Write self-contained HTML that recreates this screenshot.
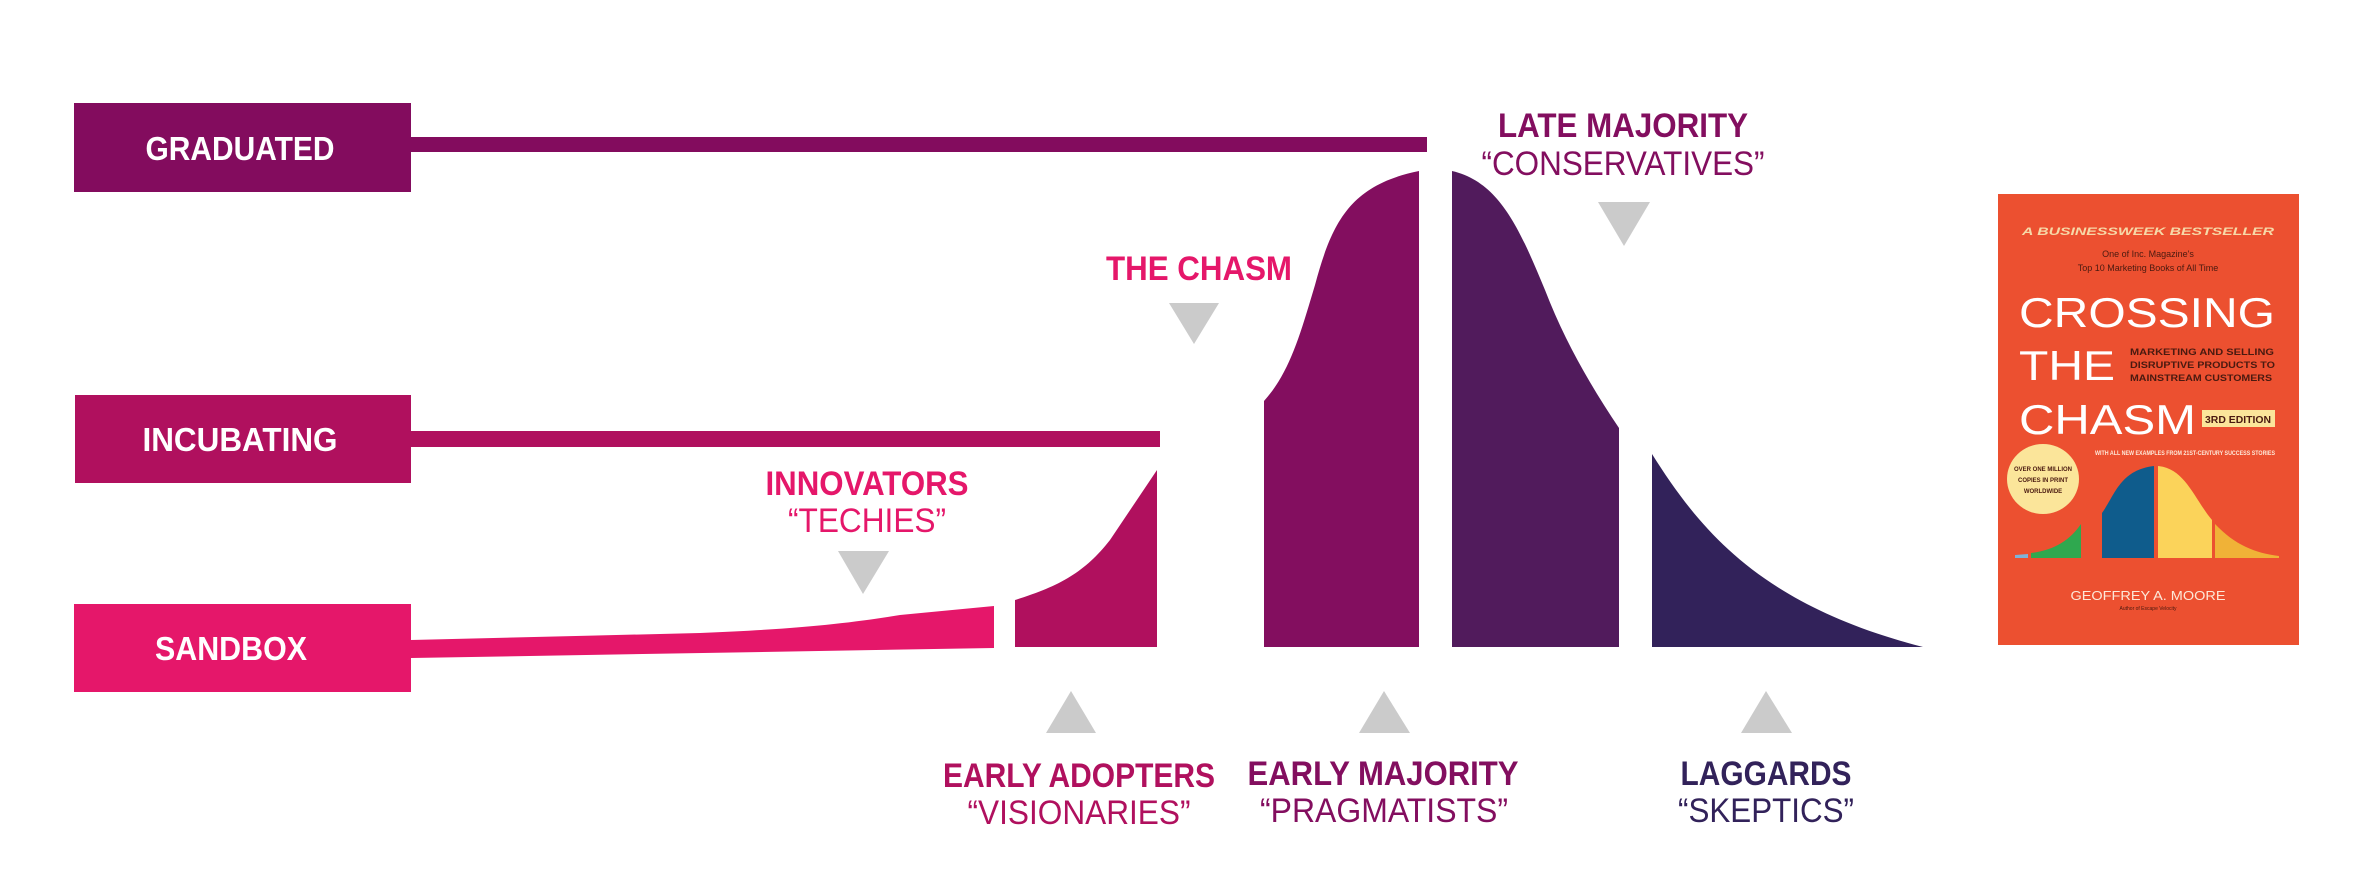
<!DOCTYPE html>
<html><head><meta charset="utf-8"><style>
html,body{margin:0;padding:0;background:#fff}
svg{display:block}
text{font-family:"Liberation Sans",sans-serif}
</style></head><body>
<svg width="2356" height="884" viewBox="0 0 2356 884" xmlns="http://www.w3.org/2000/svg">
<rect width="2356" height="884" fill="#fff"/>
<!-- bars -->
<rect x="74" y="103" width="337" height="89" fill="#830c5e"/>
<rect x="411" y="137" width="1016" height="15" fill="#830c5e"/>
<rect x="75" y="395" width="336" height="88" fill="#b0105e"/>
<rect x="411" y="431" width="749" height="16" fill="#b0105e"/>
<rect x="74" y="604" width="337" height="88" fill="#e5176a"/>
<path d="M411,640 L700,633 C800,629 850,623 900,615 L994,606 L994,648 L411,658 Z" fill="#e5176a"/>
<text x="240" y="160" font-size="33" font-weight="bold" fill="#fff" text-anchor="middle" textLength="189" lengthAdjust="spacingAndGlyphs">GRADUATED</text>
<text x="240" y="451" font-size="33" font-weight="bold" fill="#fff" text-anchor="middle" textLength="195" lengthAdjust="spacingAndGlyphs">INCUBATING</text>
<text x="231" y="660" font-size="33" font-weight="bold" fill="#fff" text-anchor="middle" textLength="152" lengthAdjust="spacingAndGlyphs">SANDBOX</text>
<!-- curve pieces -->
<path d="M1015,647 L1015,600 C1060,586 1085,572 1110,540 L1157,470 L1157,647 Z" fill="#b0105e"/>
<path d="M1264,647 L1264,401 C1290,372 1300,335 1315,285 C1332,222 1350,185 1419,171 L1419,647 Z" fill="#830e5f"/>
<path d="M1452,647 L1452,171 C1500,182 1520,230 1545,290 C1565,342 1592,388 1619,428 L1619,647 Z" fill="#511b5c"/>
<path d="M1652,454 C1700,530 1760,605 1923,647 L1652,647 Z" fill="#32225a"/>
<!-- triangles -->
<g fill="#cbcbcb">
<polygon points="838,551 889,551 863,594"/>
<polygon points="1169,303 1219,303 1194,344"/>
<polygon points="1598,202 1650,202 1624,246"/>
<polygon points="1046,733 1096,733 1071,691"/>
<polygon points="1359,733 1410,733 1384,691"/>
<polygon points="1741,733 1792,733 1766,691"/>
</g>
<!-- labels -->
<g font-size="34" text-anchor="middle">
<text x="867" y="495" font-weight="bold" fill="#e5176a" textLength="203" lengthAdjust="spacingAndGlyphs">INNOVATORS</text>
<text x="867" y="532" fill="#e5176a" textLength="158" lengthAdjust="spacingAndGlyphs">“TECHIES”</text>
<text x="1199" y="280" font-weight="bold" fill="#e5176a" textLength="186" lengthAdjust="spacingAndGlyphs">THE CHASM</text>
<text x="1623" y="137" font-weight="bold" fill="#830e5f" textLength="250" lengthAdjust="spacingAndGlyphs">LATE MAJORITY</text>
<text x="1623" y="175" fill="#830e5f" textLength="283" lengthAdjust="spacingAndGlyphs">“CONSERVATIVES”</text>
<text x="1079" y="787" font-weight="bold" fill="#b0105e" textLength="272" lengthAdjust="spacingAndGlyphs">EARLY ADOPTERS</text>
<text x="1079" y="824" fill="#b0105e" textLength="223" lengthAdjust="spacingAndGlyphs">“VISIONARIES”</text>
<text x="1383" y="785" font-weight="bold" fill="#830e5f" textLength="271" lengthAdjust="spacingAndGlyphs">EARLY MAJORITY</text>
<text x="1384" y="822" fill="#830e5f" textLength="248" lengthAdjust="spacingAndGlyphs">“PRAGMATISTS”</text>
<text x="1766" y="785" font-weight="bold" fill="#32225a" textLength="171" lengthAdjust="spacingAndGlyphs">LAGGARDS</text>
<text x="1766" y="822" fill="#32225a" textLength="176" lengthAdjust="spacingAndGlyphs">“SKEPTICS”</text>
</g>
<!-- book -->
<rect x="1998" y="194" width="301" height="451" fill="#ec5030"/>
<text x="2148" y="235" font-size="11" font-weight="bold" font-style="italic" fill="#f6d9a8" text-anchor="middle" textLength="252" lengthAdjust="spacingAndGlyphs">A BUSINESSWEEK BESTSELLER</text>
<text x="2148" y="257" font-size="9" fill="#4a1a10" text-anchor="middle">One of Inc. Magazine's</text>
<text x="2148" y="271" font-size="9" fill="#4a1a10" text-anchor="middle">Top 10 Marketing Books of All Time</text>
<text x="2019" y="327" font-size="42" fill="#fff" textLength="256" lengthAdjust="spacingAndGlyphs">CROSSING</text>
<text x="2019" y="380" font-size="42" fill="#fff" textLength="96" lengthAdjust="spacingAndGlyphs">THE</text>
<text x="2130" y="355" font-size="9" font-weight="bold" fill="#4a1a10" textLength="144" lengthAdjust="spacingAndGlyphs">MARKETING AND SELLING</text>
<text x="2130" y="368" font-size="9" font-weight="bold" fill="#4a1a10" textLength="145" lengthAdjust="spacingAndGlyphs">DISRUPTIVE PRODUCTS TO</text>
<text x="2130" y="381" font-size="9" font-weight="bold" fill="#4a1a10" textLength="142" lengthAdjust="spacingAndGlyphs">MAINSTREAM CUSTOMERS</text>
<text x="2019" y="434" font-size="42" fill="#fff" textLength="177" lengthAdjust="spacingAndGlyphs">CHASM</text>
<rect x="2202" y="410" width="73" height="17" fill="#fbe59a"/>
<text x="2238" y="423" font-size="10" font-weight="bold" fill="#4a1a10" text-anchor="middle" textLength="66" lengthAdjust="spacingAndGlyphs">3RD EDITION</text>
<text x="2185" y="455" font-size="6" font-weight="bold" fill="#fde8d8" text-anchor="middle" textLength="180" lengthAdjust="spacingAndGlyphs">WITH ALL NEW EXAMPLES FROM 21ST-CENTURY SUCCESS STORIES</text>
<ellipse cx="2043" cy="479" rx="36" ry="35" fill="#fbe59a"/>
<text x="2043" y="471" font-size="6" font-weight="bold" fill="#4a1a10" text-anchor="middle">OVER ONE MILLION</text>
<text x="2043" y="482" font-size="6" font-weight="bold" fill="#4a1a10" text-anchor="middle">COPIES IN PRINT</text>
<text x="2043" y="493" font-size="6" font-weight="bold" fill="#4a1a10" text-anchor="middle">WORLDWIDE</text>
<path d="M2015,558 L2015,555 L2028,554 L2028,558 Z" fill="#7fb2d8"/>
<path d="M2031,558 L2031,553 C2055,550 2070,540 2081,524 L2081,558 Z" fill="#2fa84f"/>
<path d="M2102,558 L2102,513 C2115,495 2120,470 2154,466 L2154,558 Z" fill="#0f5c8c"/>
<path d="M2158,558 L2158,466 C2185,468 2195,500 2212,520 L2212,558 Z" fill="#fbd35a"/>
<path d="M2215,558 L2215,524 C2235,545 2255,553 2279,556 L2279,558 Z" fill="#f0b237"/>
<text x="2148" y="600" font-size="13" fill="#fde8d8" text-anchor="middle" textLength="155" lengthAdjust="spacingAndGlyphs">GEOFFREY A. MOORE</text>
<text x="2148" y="610" font-size="5" fill="#4a1a10" text-anchor="middle">Author of Escape Velocity</text>
</svg>
</body></html>
